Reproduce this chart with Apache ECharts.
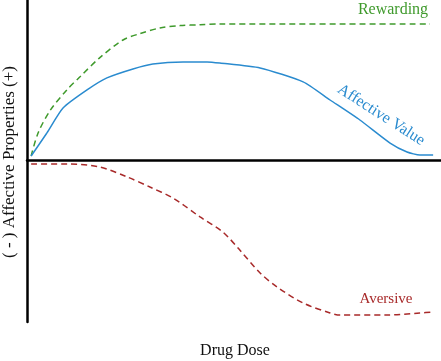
<!DOCTYPE html>
<html>
<head>
<meta charset="utf-8">
<script src="https://cdn.jsdelivr.net/npm/echarts@6/dist/echarts.min.js"></script>
<style>html,body{margin:0;padding:0;background:#fff;}#c{width:441px;height:361px;}</style>
</head>
<body>
<div id="c"></div>
<script>
// Drug dose (0-100 arbitrary units) and affective property (+/- arbitrary units)
var rewardingX = [1, 2.7, 5.6, 9.7, 12.8, 17.6, 23.2, 27.3, 32.1, 37, 41.8, 46.6, 97.3];
var rewardingY = [2.5, 17, 31, 44, 52, 64, 75, 79, 82.5, 84, 84.5, 85, 85];

var affectiveX = [1, 4.8, 8.7, 14.5, 19.3, 25.6, 30.4, 37.7, 43.5, 46.6, 56.3, 66.7, 73.2, 80.4, 87.7, 91.8, 94.9, 98.1];
var affectiveY = [2.5, 16.9, 32.5, 43.8, 51.3, 56.9, 60, 61.3, 61.3, 60.6, 57.5, 48.8, 37.5, 25, 10.6, 5, 3.1, 3.1];

var aversiveX = [1, 9.7, 17.6, 24.2, 29.7, 35.3, 41.8, 47.3, 51.4, 56.3, 60.4, 66.7, 73.2, 75.6, 87, 94.9, 98.1];
var aversiveY = [-2.5, -2.5, -4.4, -10.6, -16.9, -23.8, -35.6, -45, -56.3, -70.6, -79.4, -89.4, -95.6, -96.9, -96.9, -95.6, -95];

var seriesNames = ['Rewarding', 'Affective Value', 'Aversive'];
var xAxisTitle = 'Drug Dose';
var yAxisTitle = '( - ) Affective Properties (+)';

function pairs(xs, ys) { return xs.map(function (x, i) { return [x, ys[i]]; }); }

var chart = echarts.init(document.getElementById('c'), null, {renderer: 'canvas'});
var font = '"Liberation Serif", "DejaVu Serif", serif';
chart.setOption({
  animation: false,
  grid: {left: 27, right: 0, top: 0, bottom: 39},
  xAxis: {
    type: 'value', min: 0, max: 100,
    axisLine: {onZero: true, lineStyle: {color: '#000', width: 2.5}},
    axisTick: {show: false}, axisLabel: {show: false}, splitLine: {show: false}
  },
  yAxis: {
    type: 'value', min: -101.25, max: 100,
    axisLine: {show: true, lineStyle: {color: '#000', width: 2.5}},
    axisTick: {show: false}, axisLabel: {show: false}, splitLine: {show: false}
  },
  series: [
    {name: seriesNames[0], type: 'line', data: pairs(rewardingX, rewardingY), smooth: 0.3, symbol: 'none',
     lineStyle: {color: '#3f9a2c', width: 1.5, type: [6, 4]}},
    {name: seriesNames[1], type: 'line', data: pairs(affectiveX, affectiveY), smooth: 0.2, symbol: 'none',
     lineStyle: {color: '#2a8bcf', width: 1.5}},
    {name: seriesNames[2], type: 'line', data: pairs(aversiveX, aversiveY), smooth: 0.3, symbol: 'none',
     lineStyle: {color: '#a82a2a', width: 1.5, type: [6, 4]}}
  ],
  graphic: [
    {type: 'text', x: 393, y: 10, style: {text: seriesNames[0], fill: '#3f9a2c', font: '16px ' + font, align: 'center', verticalAlign: 'middle'}},
    {type: 'text', x: 381, y: 115, rotation: -0.57, style: {text: seriesNames[1], fill: '#2a8bcf', font: '16px ' + font, align: 'center', verticalAlign: 'middle'}},
    {type: 'text', x: 386, y: 299, style: {text: seriesNames[2], fill: '#a82a2a', font: '15px ' + font, align: 'center', verticalAlign: 'middle'}},
    {type: 'text', x: 235, y: 351, style: {text: xAxisTitle, fill: '#111', font: '16px ' + font, align: 'center', verticalAlign: 'middle'}},
    {type: 'text', x: 10, y: 162, rotation: Math.PI / 2, style: {text: yAxisTitle, fill: '#111', font: '17px ' + font, align: 'center', verticalAlign: 'middle'}}
  ]
});
</script>
</body>
</html>
